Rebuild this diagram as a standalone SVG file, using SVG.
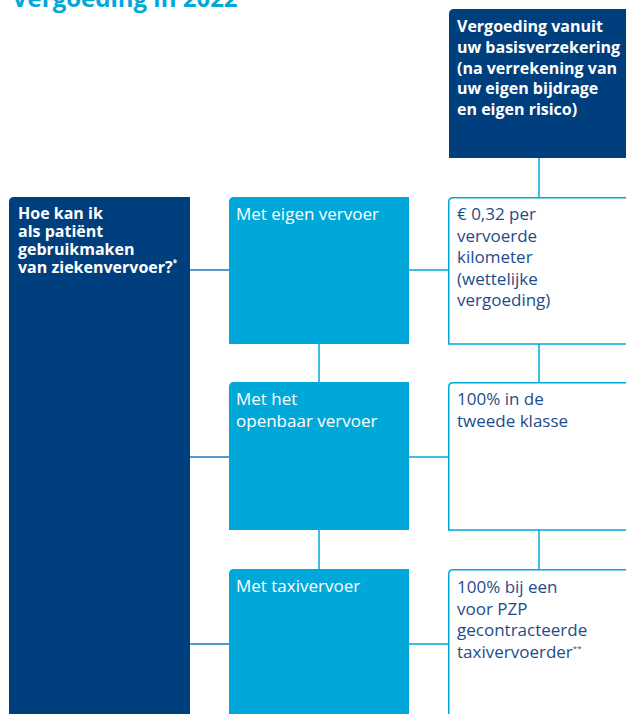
<svg xmlns="http://www.w3.org/2000/svg" width="626" height="714" viewBox="0 0 626 714">
<style>
.dark{fill:#003F7E}
.cyan{fill:#00A8D9}
.wbox{fill:#FFFFFF;stroke:#00A8D9;stroke-width:1.5}
.bt{font-family:"Open Sans","Noto Sans",sans-serif;font-weight:700;font-size:16px;fill:#FFFFFF}
.mt{font-family:"Open Sans","Noto Sans",sans-serif;font-weight:400;font-size:17px;fill:#FFFFFF}
.rt{font-family:"Open Sans","Noto Sans",sans-serif;font-weight:400;font-size:17px;fill:#1E4C8A}
.sup{font-size:8px}
.title{font-family:"Open Sans","Noto Sans",sans-serif;font-weight:700;font-size:24px;fill:#00A8D9}
.conn line{stroke:#00A8D9;stroke-width:1.5;fill:none}
.conn line.dk{stroke:#1A78BC}
</style>
<rect width="626" height="714" fill="#FFFFFF"/>
<text class="title" x="12" y="7">Vergoeding in 2022</text>

<g class="conn">
<line x1="539" y1="158" x2="539" y2="197"/>
<line x1="539" y1="344" x2="539" y2="382"/>
<line x1="539" y1="530" x2="539" y2="569"/>
<line x1="319" y1="344" x2="319" y2="382"/>
<line x1="319" y1="530" x2="319" y2="569"/>
<line class="dk" x1="190" y1="270" x2="229" y2="270"/>
<line class="dk" x1="190" y1="457" x2="229" y2="457"/>
<line class="dk" x1="190" y1="644" x2="229" y2="644"/>
<line x1="409" y1="270" x2="448" y2="270"/>
<line x1="409" y1="457" x2="448" y2="457"/>
<line x1="409" y1="644" x2="448" y2="644"/>
</g>

<g id="header">
<path class="dark" d="M449 14 Q449 9 454 9 H626 V158 H449 Z"/>
<text class="bt"><tspan x="457" y="32">Vergoeding vanuit</tspan><tspan x="457" y="53">uw basisverzekering</tspan><tspan x="457" y="74">(na verrekening van</tspan><tspan x="457" y="94">uw eigen bijdrage</tspan><tspan x="457" y="115">en eigen risico)</tspan></text>
</g>

<g id="question">
<path class="dark" d="M9 202 Q9 197 14 197 H190 V714 H9 Z"/>
<text class="bt"><tspan x="18" y="219">Hoe kan ik</tspan><tspan x="18" y="237">als patiënt</tspan><tspan x="18" y="255">gebruikmaken</tspan><tspan x="18" y="273">van ziekenvervoer?</tspan><tspan class="sup" dy="-7">*</tspan></text>
</g>

<g id="eigen">
<path class="cyan" d="M229 202 Q229 197 234 197 H409 V344 H229 Z"/>
<text class="mt" x="236" y="220">Met eigen vervoer</text>
</g>
<g id="ov">
<path class="cyan" d="M229 387 Q229 382 234 382 H409 V530 H229 Z"/>
<text class="mt"><tspan x="236" y="405">Met het</tspan><tspan x="236" y="427">openbaar vervoer</tspan></text>
</g>
<g id="taxi">
<path class="cyan" d="M229 574 Q229 569 234 569 H409 V714 H229 Z"/>
<text class="mt" x="236" y="592">Met taxivervoer</text>
</g>

<g id="r-eigen">
<path class="wbox" d="M448.75 202 Q448.75 197.75 453 197.75 H630 V344 H448.75 Z"/>
<text class="rt"><tspan x="457" y="220">€ 0,32 per</tspan><tspan x="457" y="241.5">vervoerde</tspan><tspan x="457" y="263">kilometer</tspan><tspan x="457" y="284.5">(wettelijke</tspan><tspan x="457" y="306">vergoeding)</tspan></text>
</g>
<g id="r-ov">
<path class="wbox" d="M448.75 387 Q448.75 382.75 453 382.75 H630 V530 H448.75 Z"/>
<text class="rt"><tspan x="457" y="405">100% in de</tspan><tspan x="457" y="427">tweede klasse</tspan></text>
</g>
<g id="r-taxi">
<path class="wbox" d="M448.75 574 Q448.75 569.75 453 569.75 H630 V720 H448.75 Z"/>
<text class="rt"><tspan x="457" y="593">100% bij een</tspan><tspan x="457" y="614.5">voor PZP</tspan><tspan x="457" y="636">gecontracteerde</tspan><tspan x="457" y="657.5">taxivervoerder</tspan><tspan class="sup" dy="-7">**</tspan></text>
</g>
</svg>
